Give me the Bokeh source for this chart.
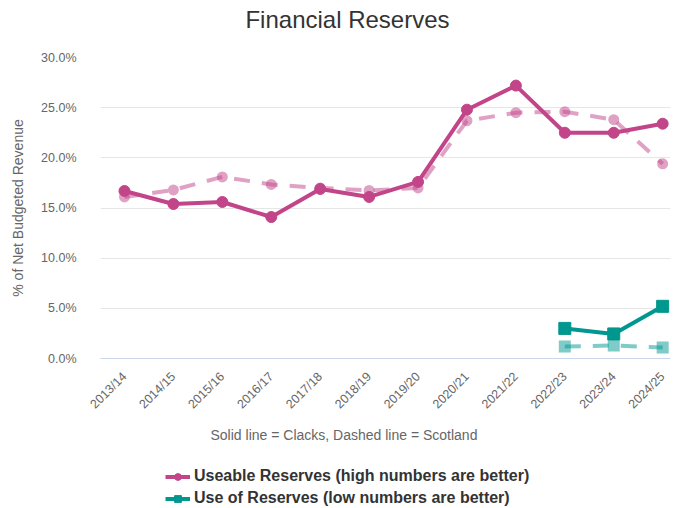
import math
from bokeh.plotting import figure
from bokeh.layouts import column
from bokeh.models import Range1d, FixedTicker, Legend, LegendItem, Title, Label, PrintfTickFormatter
from bokeh.embed import file_html
from bokeh.resources import INLINE

categories = ["2013/14", "2014/15", "2015/16", "2016/17", "2017/18", "2018/19",
              "2019/20", "2020/21", "2021/22", "2022/23", "2023/24", "2024/25"]
clacks_useable = [16.7, 15.4, 15.6, 14.1, 16.9, 16.1, 17.6, 24.8, 27.2, 22.5, 22.5, 23.4]
scotland_useable = [16.1, 16.8, 18.1, 17.35, 17.0, 16.75, 17.0, 23.7, 24.5, 24.6, 23.8, 19.4]
use_categories = ["2022/23", "2023/24", "2024/25"]
clacks_use = [3.0, 2.45, 5.2]
scotland_use = [1.2, 1.3, 1.1]
y_ticks = [0, 5, 10, 15, 20, 25, 30]
title_text = "Financial Reserves"
subtitle_text = "Solid line = Clacks, Dashed line = Scotland"
legend_labels = ["Useable Reserves (high numbers are better)",
                 "Use of Reserves (low numbers are better)"]

PINK = "#c2458a"
TEAL = "#00978f"
FONT = "Liberation Sans"

x_all = [categories.index(c) for c in categories]
x_use = [categories.index(c) for c in use_categories]

# Title strip (its frame is aligned with the main frame: 100..670 px)
tp = figure(width=678, height=50, output_backend="svg", toolbar_location=None,
            x_range=Range1d(100, 670), y_range=Range1d(0, 50),
            min_border_left=0, min_border_right=0, min_border_top=0, min_border_bottom=0)
tp.axis.visible = False
tp.grid.visible = False
tp.outline_line_color = None
tp.add_layout(Label(x=347, y=31, text=title_text, text_align="center", text_baseline="middle",
                    text_font=FONT, text_font_size="24px", text_color="#333333"))

p = figure(width=678, height=405, output_backend="svg", toolbar_location=None,
           x_range=Range1d(-0.49, 11.16), y_range=Range1d(0, 30),
           min_border_left=100, min_border_right=8, min_border_top=7, min_border_bottom=97)
p.outline_line_color = None
p.background_fill_color = "white"
p.border_fill_color = "white"

# Dashed (Scotland)
p.line(x_all, scotland_useable, line_color=PINK, line_alpha=0.5, line_width=4, line_dash="16 12")
p.scatter(x_all, scotland_useable, marker="circle", size=11, fill_color=PINK, line_color=PINK,
          fill_alpha=0.5, line_alpha=0.0)
p.line(x_use, scotland_use, line_color=TEAL, line_alpha=0.5, line_width=4, line_dash="16 12")
p.scatter(x_use, scotland_use, marker="square", size=12, fill_color=TEAL, line_color=TEAL,
          fill_alpha=0.5, line_alpha=0.0)

# Solid (Clacks)
p.line(x_all, clacks_useable, line_color=PINK, line_width=4)
p.scatter(x_all, clacks_useable, marker="circle", size=11, fill_color=PINK, line_color=PINK)
p.line(x_use, clacks_use, line_color=TEAL, line_width=4)
p.scatter(x_use, clacks_use, marker="square", size=12, fill_color=TEAL, line_color=TEAL)

# Axes
p.xgrid.visible = False
p.ygrid.grid_line_color = "#e6e6e6"
p.ygrid.grid_line_width = 1

p.yaxis.ticker = FixedTicker(ticks=y_ticks)
p.yaxis.formatter = PrintfTickFormatter(format="%.1f%%")
p.yaxis.axis_line_color = None
p.yaxis.major_tick_line_color = None
p.yaxis.minor_tick_line_color = None
p.yaxis.major_label_text_font = FONT
p.yaxis.major_label_text_font_size = "12.5px"
p.yaxis.major_label_text_color = "#666666"
p.yaxis.major_label_standoff = 18
p.yaxis.axis_label = "% of Net Budgeted Revenue"
p.yaxis.axis_label_text_font = FONT
p.yaxis.axis_label_text_font_size = "14px"
p.yaxis.axis_label_text_font_style = "normal"
p.yaxis.axis_label_text_color = "#666666"
p.yaxis.axis_label_standoff = 12

p.xaxis.ticker = FixedTicker(ticks=x_all)
p.xaxis.major_label_overrides = {i: c for i, c in enumerate(categories)}
p.xaxis.major_label_orientation = math.pi / 4
p.xaxis.axis_line_color = "#ccd6eb"
p.xaxis.major_tick_line_color = None
p.xaxis.minor_tick_line_color = None
p.xaxis.major_label_text_font = FONT
p.xaxis.major_label_text_font_size = "12.5px"
p.xaxis.major_label_text_color = "#666666"
p.xaxis.major_label_standoff = 10

sub = Title(text=subtitle_text, align="left", offset=110,
            text_font=FONT, text_font_size="14px", text_font_style="normal",
            text_color="#666666", standoff=11)
p.add_layout(sub, "below")

# Legend strip (separate figure; its series lie outside its visible range)
lg = figure(width=678, height=53, output_backend="svg", toolbar_location=None,
            x_range=Range1d(100, 101), y_range=Range1d(100, 101),
            min_border_left=0, min_border_right=0, min_border_top=0, min_border_bottom=0)
lg.axis.visible = False
lg.grid.visible = False
lg.outline_line_color = None
ll1 = lg.line(x_all, clacks_useable, line_color=PINK, line_width=4)
ls1 = lg.scatter(x_all, clacks_useable, marker="circle", size=9, fill_color=PINK, line_color=PINK)
ll2 = lg.line(x_use, clacks_use, line_color=TEAL, line_width=4)
ls2 = lg.scatter(x_use, clacks_use, marker="square", size=9, fill_color=TEAL, line_color=TEAL)

legend = Legend(items=[
    LegendItem(label=legend_labels[0], renderers=[ll1, ls1]),
    LegendItem(label=legend_labels[1], renderers=[ll2, ls2]),
], location=(65, 1))
legend.background_fill_alpha = 0
legend.border_line_color = None
legend.padding = 0
legend.margin = 0
legend.spacing = 4
legend.glyph_width = 25
legend.glyph_height = 17
legend.label_height = 17
legend.label_standoff = 4
legend.label_text_font = FONT
legend.label_text_font_size = "16px"
legend.label_text_font_style = "bold"
legend.label_text_color = "#333333"
lg.add_layout(legend, "center")

layout = column(tp, p, lg, spacing=0)
open("out.html", "w").write(file_html(layout, INLINE))
